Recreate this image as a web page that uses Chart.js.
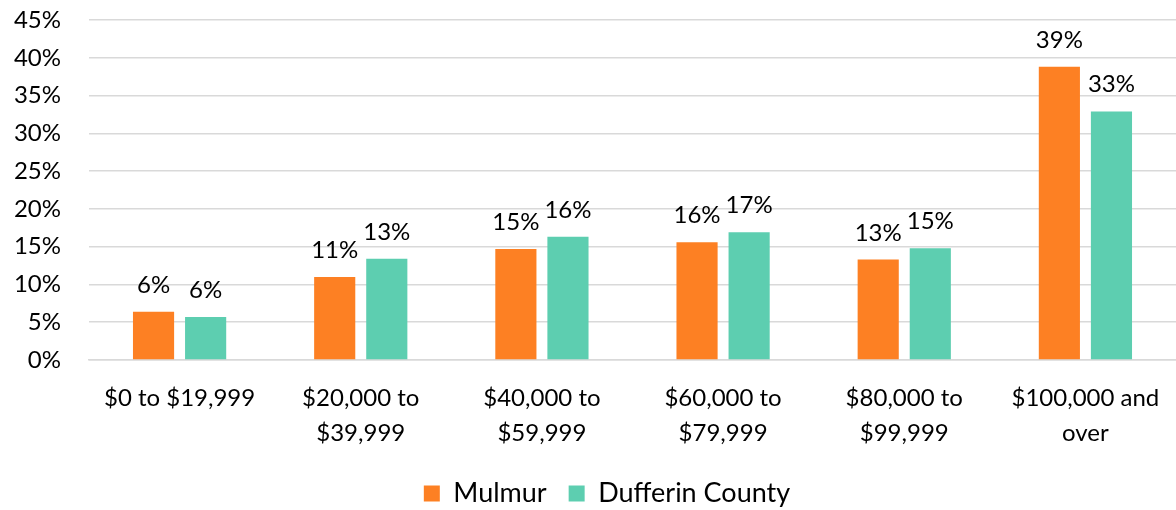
<!DOCTYPE html>
<html>
<head>
<meta charset="utf-8">
<script src="https://cdn.jsdelivr.net/npm/chart.js@4/dist/chart.umd.min.js"></script>
<style>
  html, body { margin: 0; padding: 0; background: #fff; }
  #wrap { width: 1176px; height: 510px; }
</style>
</head>
<body>
<div id="wrap"><canvas id="incomeChart"></canvas></div>
<script>
// income brackets and shares (%)
const categories = [
    '$0 to $19,999',
    ['$20,000 to', '$39,999'],
    ['$40,000 to', '$59,999'],
    ['$60,000 to', '$79,999'],
    ['$80,000 to', '$99,999'],
    ['$100,000 and', 'over']
];
const mulmur = [6.4, 11.0, 14.7, 15.6, 13.3, 38.8];
const dufferin = [5.7, 13.4, 16.3, 16.9, 14.8, 32.9];
const yTicks = [0, 5, 10, 15, 20, 25, 30, 35, 40, 45];

const FONT = 'Lato, "Open Sans", sans-serif';
const PLOT_BOTTOM = 360; // where the 0% line sits

// draws the rounded value above each bar
const barLabels = {
    id: 'barLabels',
    afterDatasetsDraw(chart) {
        const ctx = chart.ctx;
        ctx.save();
        ctx.font = '24px ' + FONT;
        ctx.fillStyle = '#000';
        ctx.textAlign = 'center';
        ctx.textBaseline = 'alphabetic';
        chart.data.datasets.forEach((ds, i) => {
            chart.getDatasetMeta(i).data.forEach((bar, j) => {
                ctx.fillText(Math.round(ds.data[j]) + '%', bar.x, bar.y - 19);
            });
        });
        ctx.restore();
    }
};

// nudge the legend a bit lower and right, like the original
const legendNudge = {
    id: 'legendNudge',
    afterLayout(chart) {
        const l = chart.legend;
        l.top += 7; l.bottom += 7;
        l.left += 19; l.right += 19;
    }
};

new Chart(document.getElementById('incomeChart'), {
    type: 'bar',
    data: {
        labels: categories,
        datasets: [
            { label: 'Mulmur', data: mulmur, backgroundColor: '#FD8023' },
            { label: 'Dufferin County', data: dufferin, backgroundColor: '#5DCEB0' }
        ]
    },
    options: {
        responsive: true,
        maintainAspectRatio: false,
        animation: false,
        layout: { padding: { top: 20, right: 0, bottom: 0 } },
        categoryPercentage: 0.575,
        barPercentage: 0.79,
        plugins: {
            legend: {
                position: 'bottom',
                labels: {
                    boxWidth: 16,
                    boxHeight: 16,
                    padding: 22,
                    color: '#000',
                    font: { family: FONT, size: 27 }
                }
            },
            tooltip: { enabled: false }
        },
        scales: {
            x: {
                afterFit(scale) { scale.height = scale.chart.height - PLOT_BOTTOM - scale.chart.legend.height; },
                grid: { display: false },
                border: { color: '#d9d9d9', width: 1.5 },
                ticks: {
                    color: '#000',
                    padding: 13,
                    maxRotation: 0,
                    autoSkip: false,
                    font: { family: FONT, size: 24, lineHeight: 1.45 }
                }
            },
            y: {
                min: 0,
                max: 45,
                afterFit(scale) { scale.width = 89; },
                afterBuildTicks(scale) { scale.ticks = yTicks.map(v => ({ value: v })); },
                // invisible tick marks push the labels left without padding the top
                grid: { color: '#d9d9d9', lineWidth: 1.5, drawTicks: true, tickLength: 28, tickColor: 'rgba(0,0,0,0)' },
                border: { display: false },
                ticks: {
                    color: '#000',
                    padding: 0,
                    font: { family: FONT, size: 24 },
                    callback: v => v + '%'
                }
            }
        }
    },
    plugins: [barLabels, legendNudge]
});
</script>
</body>
</html>
